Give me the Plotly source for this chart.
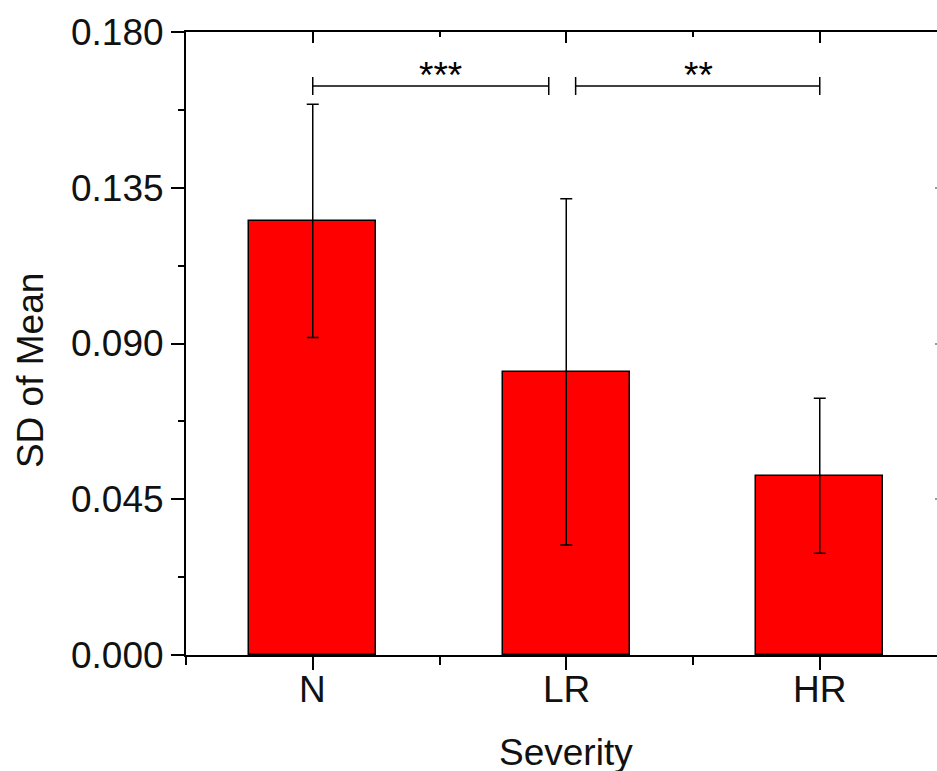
import plotly.graph_objects as go

# Severity groups and their SD-of-mean values with error half-widths
categories = ["N", "LR", "HR"]
positions = [1, 2, 3]
sd_mean = [0.1254, 0.0818, 0.0518]
sd_err = [0.0337, 0.0500, 0.0224]

# Significance brackets: (start x, end x, label x, label)
bracket_start = [1.0, 2.037]
bracket_end = [1.931, 3.0]
bracket_label_x = [1.505, 2.523]
bracket_labels = ["***", "**"]
bracket_y = 0.1644
bracket_tip = 0.0026

y_ticks = [0.0, 0.045, 0.090, 0.135, 0.180]

FONT = "Liberation Sans, Arial, sans-serif"
FS = 37
X_RANGE = [0.5, 3.4625]
Y_RANGE = [0, 0.18]

fig = go.Figure()
fig.add_trace(go.Bar(
    x=positions, y=sd_mean, width=0.5,
    marker=dict(color="#ff0000", line=dict(color="#000000", width=1.5)),
    error_y=dict(type="data", array=sd_err, visible=True,
                 color="#000000", thickness=1.5, width=6),
    showlegend=False,
))
# empty trace to carry the mirrored frame axes
fig.add_trace(go.Scatter(x=[], y=[], xaxis="x2", yaxis="y2", showlegend=False))

shapes = []
for x0, x1 in zip(bracket_start, bracket_end):
    line = dict(color="#000000", width=1.5)
    shapes.append(dict(type="line", xref="x", yref="y", x0=x0, x1=x1,
                       y0=bracket_y, y1=bracket_y, line=line))
    for xe in (x0, x1):
        shapes.append(dict(type="line", xref="x", yref="y", x0=xe, x1=xe,
                           y0=bracket_y - bracket_tip, y1=bracket_y + bracket_tip, line=line))

annotations = []
for lx, txt in zip(bracket_label_x, bracket_labels):
    annotations.append(dict(x=lx, y=bracket_y, xref="x", yref="y", text=txt,
                            showarrow=False, yanchor="bottom", yshift=-12,
                            font=dict(family=FONT, size=FS, color="#000000")))
# category labels under the bottom axis
for px, cat in zip(positions, categories):
    annotations.append(dict(x=px, y=-0.055, xref="x", yref="paper", text=cat,
                            showarrow=False, yanchor="middle",
                            font=dict(family=FONT, size=FS, color="#111111")))
annotations.append(dict(x=2, y=-0.157, xref="x", yref="paper", text="Severity",
                        showarrow=False, yanchor="middle",
                        font=dict(family=FONT, size=FS, color="#111111")))
annotations.append(dict(x=-0.208, y=0.457, xref="paper", yref="paper", text="SD of Mean",
                        showarrow=False, textangle=-90, xanchor="center", yanchor="middle",
                        font=dict(family=FONT, size=FS, color="#111111")))

fig.update_layout(
    width=937, height=771,
    margin=dict(l=186, r=0, t=32, b=116),
    paper_bgcolor="white", plot_bgcolor="white",
    bargap=0,
    shapes=shapes, annotations=annotations,
    xaxis=dict(range=X_RANGE, tickvals=positions, showticklabels=False,
               ticks="outside", ticklen=13, tickwidth=1.5, tickcolor="#000",
               showline=True, linecolor="#000", linewidth=2,
               showgrid=False, zeroline=False,
               minor=dict(tickvals=[0.5, 1.5, 2.5, 3.5], ticks="outside",
                          ticklen=8, tickwidth=1.5, tickcolor="#000")),
    yaxis=dict(range=Y_RANGE, tickvals=y_ticks, tickformat=".3f",
               ticks="outside", ticklen=13, tickwidth=1.5, tickcolor="#000",
               showline=True, linecolor="#000", linewidth=2,
               showgrid=False, zeroline=False,
               minor=dict(dtick=0.0225, tick0=0, ticks="outside",
                          ticklen=6, tickwidth=1.5, tickcolor="#000"),
               tickfont=dict(family=FONT, size=FS, color="#111111")),
    xaxis2=dict(range=X_RANGE, overlaying="x", side="top", anchor="y",
                tickvals=positions, showticklabels=False,
                ticks="inside", ticklen=11, tickwidth=1.5, tickcolor="#000",
                showline=True, linecolor="#000", linewidth=2,
                showgrid=False, zeroline=False,
                minor=dict(tickvals=[0.5, 1.5, 2.5, 3.5], ticks="inside",
                           ticklen=5, tickwidth=1.5, tickcolor="#000")),
    yaxis2=dict(range=Y_RANGE, overlaying="y", side="right", anchor="x",
                tickvals=y_ticks, showticklabels=False,
                ticks="inside", ticklen=2, tickwidth=1.5, tickcolor="#999",
                showline=False, showgrid=False, zeroline=False),
)

fig.write_html("out.html")
